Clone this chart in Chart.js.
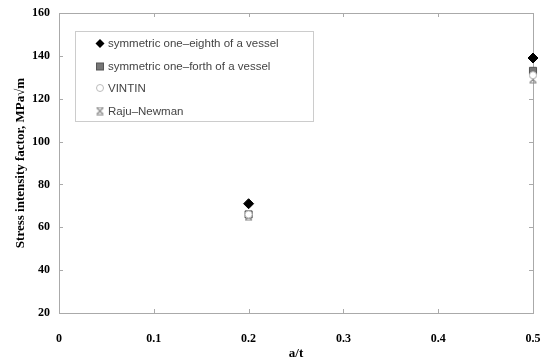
<!DOCTYPE html>
<html>
<head>
<meta charset="utf-8">
<script src="https://cdn.jsdelivr.net/npm/chart.js@4/dist/chart.umd.min.js"></script>
<style>
  html, body { margin: 0; padding: 0; background: #fff; }
  #wrap { width: 543px; height: 361px; }
</style>
</head>
<body>
<div id="wrap"><canvas id="graf"></canvas></div>
<script>
// datos
const aT = [0.2, 0.5]
const octavo = [71, 139]
const cuarto = [66, 133]
const vintin = [66, 131]
const rajuNewman = [65, 129]
const nombres = ['symmetric one\u2013eighth of a vessel', 'symmetric one\u2013forth of a vessel', 'VINTIN', 'Raju\u2013Newman']
const ticksX = [0, 0.1, 0.2, 0.3, 0.4, 0.5]
const ticksY = [20, 40, 60, 80, 100, 120, 140, 160]

// marcador tipo X con barras arriba y abajo
function CrearMarcaX() {
    let c = document.createElement('canvas')
    c.width = 9
    c.height = 9
    let ctx = c.getContext('2d')
    ctx.strokeStyle = '#888'
    ctx.lineWidth = 1.2
    ctx.beginPath()
    ctx.moveTo(1.5, 1.5); ctx.lineTo(7.5, 7.5)
    ctx.moveTo(7.5, 1.5); ctx.lineTo(1.5, 7.5)
    ctx.moveTo(1, 1); ctx.lineTo(8, 1)
    ctx.moveTo(1, 8); ctx.lineTo(8, 8)
    ctx.stroke()
    return c
}
const marcaX = CrearMarcaX()

function Serie(nombre, valores, estilo) {
    return Object.assign({
        label: nombre,
        data: aT.map((x, i) => ({ x: x, y: valores[i] })),
        showLine: false,
        clip: false
    }, estilo)
}

const estilos = [
    { pointStyle: 'rectRot', pointRadius: 5, backgroundColor: '#000', borderColor: '#000', borderWidth: 1, order: 0 },
    { pointStyle: 'rect', pointRadius: 5, backgroundColor: '#777', borderColor: '#555', borderWidth: 1, order: 3 },
    { pointStyle: 'circle', pointRadius: 3.5, backgroundColor: '#fff', borderColor: '#bbb', borderWidth: 1, order: 1 },
    { pointStyle: marcaX, pointRadius: 4, backgroundColor: '#888', borderColor: '#888', order: 2 }
]

// leyenda dentro del area del grafico
const leyenda = {
    id: 'leyenda',
    afterDraw(chart) {
        const ctx = chart.ctx
        ctx.save()
        ctx.strokeStyle = '#ccc'
        ctx.lineWidth = 1
        ctx.strokeRect(75.5, 31.5, 238, 90)
        ctx.font = '11.5px "Liberation Sans", Arial, sans-serif'
        ctx.fillStyle = '#444'
        ctx.textBaseline = 'middle'
        const ys = [43.5, 66.5, 88, 111]
        nombres.forEach((n, i) => {
            const y = ys[i], x = 100
            const e = estilos[i]
            ctx.fillStyle = e.backgroundColor
            ctx.strokeStyle = e.borderColor
            ctx.beginPath()
            if (i === 0) {
                ctx.moveTo(x, y - 4.5); ctx.lineTo(x + 4.5, y); ctx.lineTo(x, y + 4.5); ctx.lineTo(x - 4.5, y); ctx.closePath()
                ctx.fill()
            } else if (i === 1) {
                ctx.fillRect(x - 3.5, y - 3.5, 7, 7)
                ctx.strokeRect(x - 3.5, y - 3.5, 7, 7)
            } else if (i === 2) {
                ctx.arc(x, y, 3.5, 0, Math.PI * 2)
                ctx.fill(); ctx.stroke()
            } else {
                ctx.drawImage(marcaX, x - 4.5, y - 4.5)
            }
            ctx.fillStyle = '#444'
            ctx.fillText(n, 108, y + 0.5)
        })
        ctx.restore()
    }
}

// marco y marcas hacia dentro
const marco = {
    id: 'marco',
    beforeDatasetsDraw(chart) {
        const a = chart.chartArea
        const ctx = chart.ctx
        ctx.save()
        ctx.strokeStyle = '#aaa'
        ctx.lineWidth = 1
        ctx.strokeRect(Math.round(a.left) + 0.5, Math.round(a.top) + 0.5, Math.round(a.right - a.left), Math.round(a.bottom - a.top))
        ctx.beginPath()
        ticksX.forEach(v => {
            const x = Math.round(chart.scales.x.getPixelForValue(v)) + 0.5
            ctx.moveTo(x, a.bottom); ctx.lineTo(x, a.bottom - 4)
            ctx.moveTo(x, a.top); ctx.lineTo(x, a.top + 4)
        })
        ticksY.forEach(v => {
            const y = Math.round(chart.scales.y.getPixelForValue(v)) + 0.5
            ctx.moveTo(a.left, y); ctx.lineTo(a.left + 4, y)
            ctx.moveTo(a.right, y); ctx.lineTo(a.right - 4, y)
        })
        ctx.stroke()
        ctx.restore()
    }
}

const fuenteEje = { family: '"Liberation Serif", "Times New Roman", serif', size: 12, weight: 'bold' }

new Chart(document.getElementById('graf'), {
    type: 'scatter',
    data: { datasets: nombres.map((n, i) => Serie(n, [octavo, cuarto, vintin, rajuNewman][i], estilos[i])) },
    options: {
        responsive: true,
        maintainAspectRatio: false,
        animation: false,
        layout: { padding: { top: 13, right: 10, left: 0, bottom: 0 } },
        plugins: { legend: { display: false }, tooltip: { enabled: false } },
        scales: {
            x: {
                type: 'linear', min: 0, max: 0.5,
                afterBuildTicks: s => { s.ticks = ticksX.map(v => ({ value: v })) },
                afterFit: s => { s.height = 48; s.paddingLeft = 0; s.paddingRight = 0 },
                grid: { display: false, drawTicks: false },
                border: { display: false },
                ticks: { color: '#000', font: fuenteEje, padding: 19, maxRotation: 0,
                    callback: v => String(v) },
                title: { display: true, text: 'a/t', color: '#000', font: { family: fuenteEje.family, size: 13, weight: 'bold' }, padding: { top: 0, bottom: 0 } }
            },
            y: {
                min: 20, max: 160,
                afterBuildTicks: s => { s.ticks = ticksY.map(v => ({ value: v })) },
                afterFit: s => { s.width = 59; s.paddingTop = 0; s.paddingBottom = 0 },
                grid: { display: false, drawTicks: false },
                border: { display: false },
                ticks: { color: '#000', font: fuenteEje, padding: 9 },
                title: { display: true, text: 'Stress intensity factor, MPa\u221Am', color: '#000', font: { family: fuenteEje.family, size: 13, weight: 'bold' }, padding: { top: 13, bottom: 0 } }
            }
        }
    },
    plugins: [marco, leyenda]
})
</script>
</body>
</html>
